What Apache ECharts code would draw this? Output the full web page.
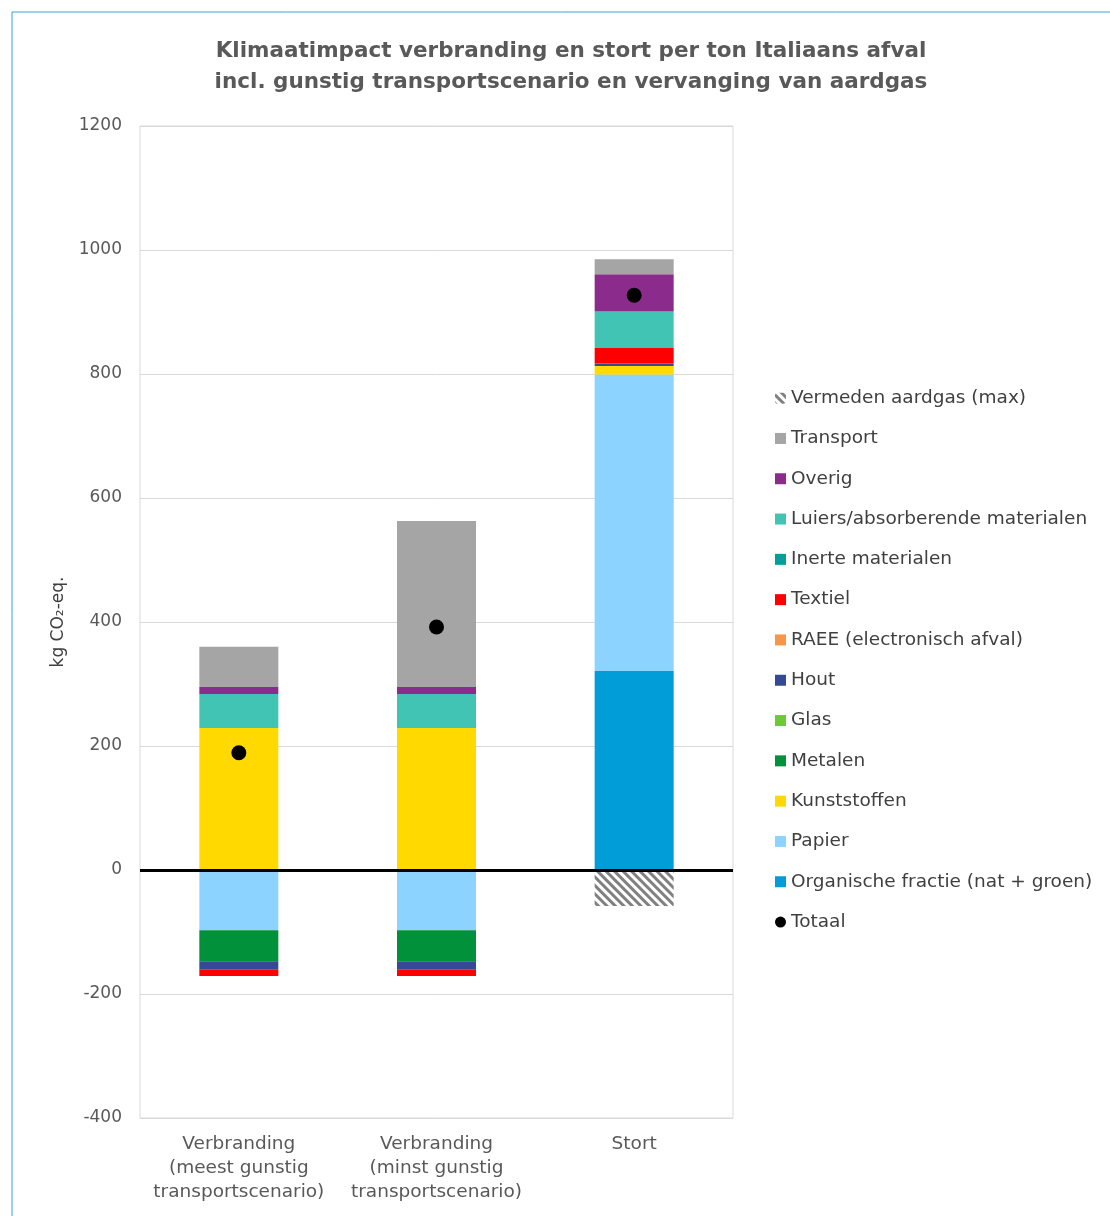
<!DOCTYPE html>
<html>
<head>
<meta charset="utf-8">
<script src="https://cdn.jsdelivr.net/npm/echarts@6/dist/echarts.min.js"></script>
<style>
html,body{margin:0;padding:0;background:#fff;}
#c{width:1110px;height:1216px;}
</style>
</head>
<body>
<div id="c"></div>
<script>
var categories = ['Verbranding\n(meest gunstig\ntransportscenario)', 'Verbranding\n(minst gunstig\ntransportscenario)', 'Stort'];
var organisch = [0, 0, 321];
var papier = [-97, -97, 478];
var kunststoffen = [229, 229, 14];
var metalen = [-50, -50, 0];
var glas = [0, 0, 0];
var hout = [-13, -13, 4];
var raee = [0, 0, 0];
var textiel = [-11, -11, 25];
var inerte = [0, 0, 0];
var luiers = [55, 55, 59];
var overig = [11, 11, 60];
var transport = [65, 268, 24];
var aardgas = [0, 0, -58];
var totaal = [189, 392, 927];
var yTicks = {min: -400, max: 1200, interval: 200};

var FONT = 'DejaVu Sans';
var chart = echarts.init(document.getElementById('c'), null, {renderer: 'canvas'});

function bar(name, data, color, extra) {
  var s = {
    name: name, type: 'bar', stack: 'a', data: data, barWidth: 79,
    itemStyle: {color: color}, emphasis: {disabled: true}
  };
  if (extra) Object.assign(s, extra);
  return s;
}

var series = [
  bar('Organische fractie (nat + groen)', organisch, '#009DD9', {
    markLine: {
      silent: true, symbol: 'none', label: {show: false},
      lineStyle: {color: '#000', width: 3, type: 'solid'},
      data: [{yAxis: 0}]
    }
  }),
  bar('Papier', papier, '#8DD3FF'),
  bar('Kunststoffen', kunststoffen, '#FFD900'),
  bar('Metalen', metalen, '#00913A'),
  bar('Glas', glas, '#6DC83A'),
  bar('Hout', hout, '#344A94'),
  bar('RAEE (electronisch afval)', raee, '#F79646'),
  bar('Textiel', textiel, '#FF0000'),
  bar('Inerte materialen', inerte, '#00A09A'),
  bar('Luiers/absorberende materialen', luiers, '#41C4B4'),
  bar('Overig', overig, '#8B2B8C'),
  bar('Transport', transport, '#A5A5A5'),
  bar('Vermeden aardgas (max)', aardgas, '#ffffff', {
    itemStyle: {
      color: '#ffffff',
      decal: {
        symbol: 'rect', symbolSize: 1, color: '#808080', backgroundColor: '#ffffff',
        dashArrayX: [1, 0], dashArrayY: [2.5, 2.5], rotation: Math.PI / 4
      }
    }
  }),
  {
    name: 'Totaal', type: 'scatter', data: totaal, symbol: 'circle', symbolSize: 15,
    itemStyle: {color: '#000', opacity: 1}, z: 10, emphasis: {disabled: true}
  }
];

chart.setOption({
  animation: false,
  textStyle: {fontFamily: FONT},
  title: {
    text: 'Klimaatimpact verbranding en stort per ton Italiaans afval\nincl. gunstig transportscenario en vervanging van aardgas',
    left: 566, top: 31, textAlign: 'center',
    textStyle: {fontFamily: FONT, fontSize: 21.5, fontWeight: 'bold', color: '#595959', lineHeight: 31}
  },
  legend: {
    orient: 'vertical', left: 770, top: 383,
    itemWidth: 11, itemHeight: 11, itemGap: 20,
    textStyle: {fontFamily: FONT, fontSize: 18.5, color: '#404040', lineHeight: 20.3},
    data: [
      {name: 'Vermeden aardgas (max)'},
      {name: 'Transport', icon: 'rect'},
      {name: 'Overig', icon: 'rect'},
      {name: 'Luiers/absorberende materialen', icon: 'rect'},
      {name: 'Inerte materialen', icon: 'rect'},
      {name: 'Textiel', icon: 'rect'},
      {name: 'RAEE (electronisch afval)', icon: 'rect'},
      {name: 'Hout', icon: 'rect'},
      {name: 'Glas', icon: 'rect'},
      {name: 'Metalen', icon: 'rect'},
      {name: 'Kunststoffen', icon: 'rect'},
      {name: 'Papier', icon: 'rect'},
      {name: 'Organische fractie (nat + groen)', icon: 'rect'},
      {name: 'Totaal', icon: 'circle'}
    ],
    selectedMode: false
  },
  grid: {left: 140, right: 377, top: 126, bottom: 98, show: true, borderColor: '#D9D9D9', borderWidth: 1},
  xAxis: {
    type: 'category', data: categories,
    axisLine: {show: false}, axisTick: {show: false},
    axisLabel: {fontFamily: FONT, fontSize: 18.5, color: '#595959', lineHeight: 24, margin: 14, interval: 0}
  },
  yAxis: {
    type: 'value', min: yTicks.min, max: yTicks.max, interval: yTicks.interval,
    axisLine: {show: false}, axisTick: {show: false},
    splitLine: {lineStyle: {color: '#D9D9D9', width: 1}},
    axisLabel: {fontFamily: FONT, fontSize: 17, color: '#595959', margin: 18, formatter: function (v) { return String(v); }},
    name: 'kg CO₂-eq.', nameLocation: 'middle', nameRotate: 90, nameGap: 73,
    nameTextStyle: {fontFamily: FONT, fontSize: 17, color: '#404040'}
  },
  graphic: [
    {type: 'rect', shape: {x: 12, y: 12, width: 1200, height: 1300}, style: {fill: 'none', stroke: '#3AA3D6', lineWidth: 1}, silent: true}
  ],
  series: series
});
</script>
</body>
</html>
